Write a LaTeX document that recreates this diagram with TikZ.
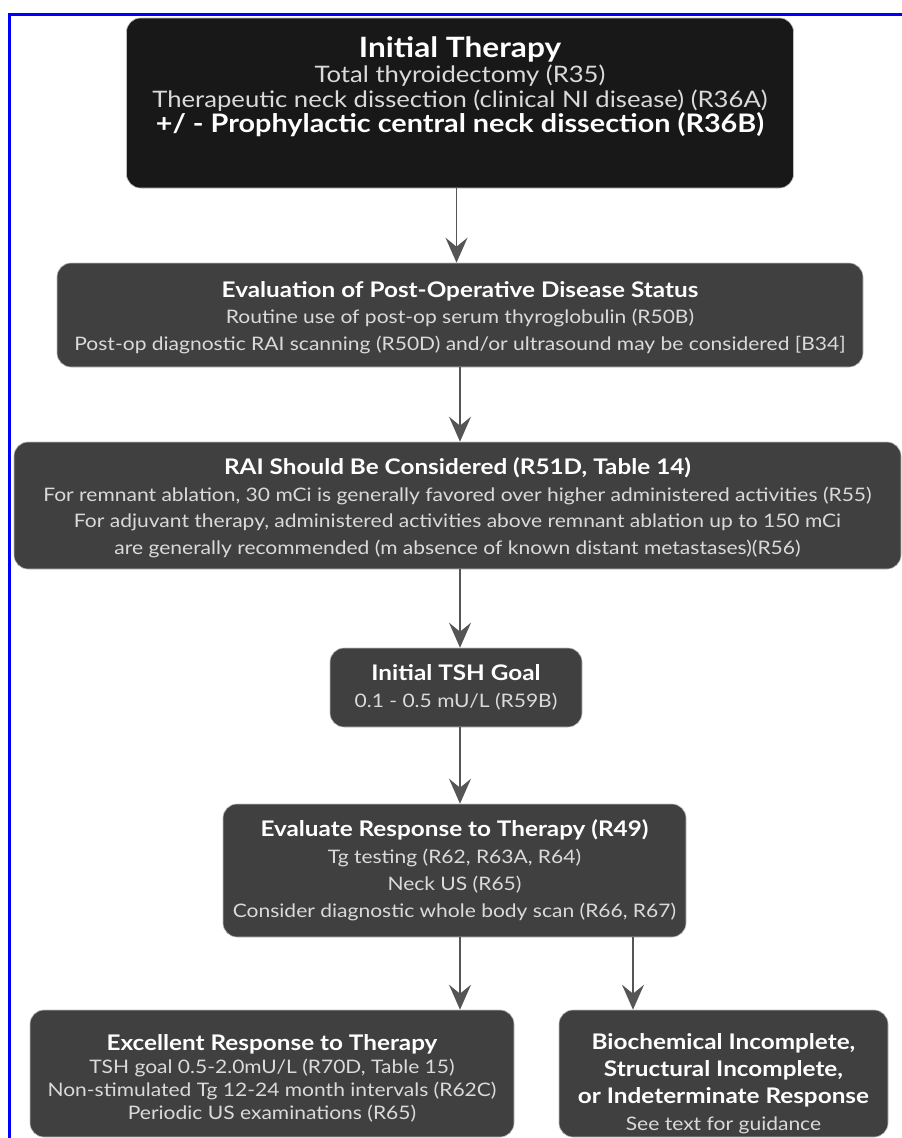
\documentclass[tikz,border=0pt]{standalone}
\usepackage{fontspec}
\setmainfont{Lato}[FakeStretch=1.13]
\usetikzlibrary{arrows.meta}
\definecolor{boxdark}{HTML}{404040}
\definecolor{boxblack}{HTML}{181818}
\definecolor{bodytext}{HTML}{DADADA}
\definecolor{arrowgray}{HTML}{555555}
\definecolor{frameblue}{HTML}{0000FF}
\tikzset{
  stagebox/.style={fill=boxdark, draw=gray!50, line width=0.6pt, rounded corners=14pt,
    align=center, text=bodytext, inner sep=0pt, font=\fontsize{18.6}{26.5}\selectfont},
  flowarrow/.style={draw=arrowgray, line width=1.6pt,
    -{Stealth[length=25pt,width=22pt,inset=9pt]}},
}
\newcommand{\boxtitle}[2][21.5]{{\color{white}\bfseries\fontsize{#1}{26}\selectfont #2}}
\newcommand{\topgap}[1]{\rule{0pt}{#1}}
\begin{document}
\begin{tikzpicture}[x=1pt,y=-1pt]
\useasboundingbox (0,0) rectangle (902,1138);
\draw[frameblue, line width=3pt] (9,1140) -- (9,14) -- (904,14);
% boxes, top to bottom
\node[stagebox, fill=boxblack, minimum width=667pt, minimum height=170pt,
  text depth=36pt, font=\fontsize{22.7}{25}\selectfont] (b1) at (460,103)
  {\boxtitle[28]{Initial Therapy}\\
   Total thyroidectomy (R35)\\
   Therapeutic neck dissection (clinical NI disease) (R36A)\\
   \boxtitle[25.5]{+/ - Prophylactic central neck dissection (R36B)}};
\node[stagebox, minimum width=806pt, minimum height=104pt] (b2) at (460,315)
  {\topgap{21pt}\boxtitle{Evaluation of Post-Operative Disease Status}\\
   Routine use of post-op serum thyroglobulin (R50B)\\
   Post-op diagnostic RAI scanning (R50D) and/or ultrasound may be considered [B34]};
\node[stagebox, minimum width=887pt, minimum height=127pt] (b3) at (457.5,505.5)
  {\topgap{21pt}\boxtitle{RAI Should Be Considered (R51D, Table 14)}\\
   For remnant ablation, 30 mCi is generally favored over higher administered activities (R55)\\
   For adjuvant therapy, administered activities above remnant ablation up to 150 mCi\\
   are generally recommended (m absence of known distant metastases)(R56)};
\node[stagebox, minimum width=252pt, minimum height=79pt] (b4) at (456,687.5)
  {\boxtitle{Initial TSH Goal}\\
   0.1 - 0.5 mU/L (R59B)};
\node[stagebox, minimum width=463pt, minimum height=133pt,
  font=\fontsize{18.6}{27}\selectfont] (b5) at (454.5,870.5)
  {\boxtitle{Evaluate Response to Therapy (R49)}\\
   Tg testing (R62, R63A, R64)\\
   Neck US (R65)\\
   Consider diagnostic whole body scan (R66, R67)};
\node[stagebox, minimum width=484pt, minimum height=127pt,
  font=\fontsize{18.6}{23}\selectfont] (b6) at (272,1073.5)
  {\topgap{25pt}\boxtitle{Excellent Response to Therapy}\\
   TSH goal 0.5-2.0mU/L (R70D, Table 15)\\
   Non-stimulated Tg 12-24 month intervals (R62C)\\
   Periodic US examinations (R65)};
\node[stagebox, minimum width=329pt, minimum height=127pt,
  font=\fontsize{18.6}{27}\selectfont] (b7) at (723.5,1073.5)
  {\topgap{36pt}\boxtitle{Biochemical Incomplete,}\\
   \boxtitle{Structural Incomplete,}\\
   \boxtitle{or Indeterminate Response}\\
   See text for guidance};
% connectors
\draw[flowarrow] ([xshift=-3.5pt]b1.south) -- ([xshift=-3.5pt]b1.south |- b2.north);
\draw[flowarrow] (b2.south) -- (b2.south |- b3.north);
\draw[flowarrow] ([xshift=2.5pt]b3.south) -- ([xshift=2.5pt]b3.south |- b4.north);
\draw[flowarrow] ([xshift=4pt]b4.south) -- ([xshift=4pt]b4.south |- b5.north);
\draw[flowarrow] ([xshift=5.5pt]b5.south) -- ([xshift=5.5pt]b5.south |- b6.north);
\draw[flowarrow] ([xshift=178.5pt]b5.south) -- ([xshift=178.5pt]b5.south |- b7.north);
\end{tikzpicture}
\end{document}
